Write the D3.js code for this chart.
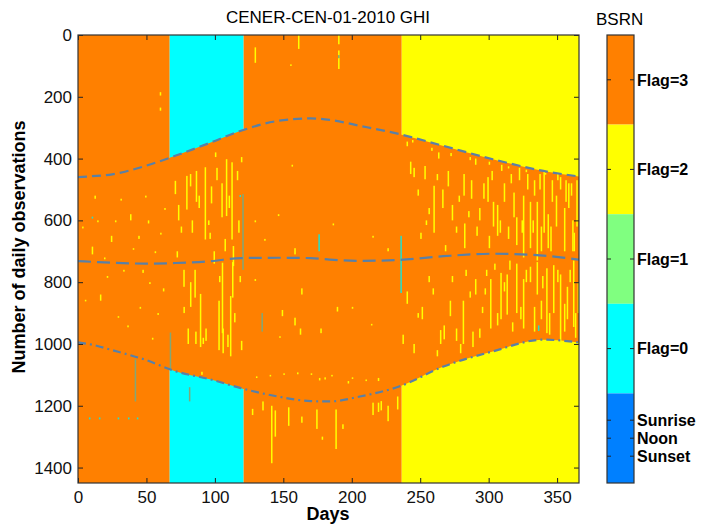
<!DOCTYPE html>
<html>
<head>
<meta charset="utf-8">
<script src="https://cdn.jsdelivr.net/npm/d3@7"></script>
<style>
  body { margin: 0; background: #fff; }
  svg text { font-family: "Liberation Sans", Arial, sans-serif; }
</style>
</head>
<body>
<svg id="chart" width="704" height="527"></svg>
<script>
// ---- data ----
var dayTicks = [0, 50, 100, 150, 200, 250, 300, 350];
var obsTicks = [0, 200, 400, 600, 800, 1000, 1200, 1400];

// night flag per period of the year
var periodStart = [0, 67, 121, 236.5];
var periodEnd   = [67, 121, 236.5, 366];
var periodFlag  = [3, 0, 3, 2];

// sunrise / noon / sunset (minute of day)
var curveDays = [0, 10, 25, 49, 71, 97, 119, 146, 170, 184, 206, 235, 267, 303, 340, 366];
var sunriseMin = [460, 457, 451, 424, 391, 348, 310, 278, 270, 275, 294, 321, 359, 402, 440, 458];
var noonMin    = [732, 734, 737, 740, 738, 732, 722, 721, 722, 727, 731, 728, 716, 708, 714, 727];
var sunsetMin  = [995, 1002, 1020, 1051, 1088, 1115, 1143, 1170, 1185, 1186, 1170, 1137, 1073, 1024, 986, 995];

// flag=2 observations inside daylight (day, from minute, to minute)
var yellowStreaks = [
  [5,857,862],[10,685,710],[16,840,860],[21,780,786],[24,650,670],[29,910,915],[31,530,536],
  [36,940,946],[38,580,600],[40,690,695],[45,880,886],[49,520,526],[51,600,610],[52,800,806],
  [54,980,986],[60,640,646],[59.7,185,196],[59.7,235,245],[63,560,566],[14,600,606],[33,760,766],[58,900,906],
  [3,620,626],[12,520,530],[19,720,726],[27,600,606],[44,650,660],[47,760,770],[56,700,706],[62,820,830],
  [70.6,472,515],[73,550,600],[76.9,760,815],[79,456,565],[80,950,1000],[81.7,450,490],[81.8,800,880],
  [85,760,850],[85.6,960,1000],[86,440,540],[89,838,1010],[92.5,428,662],[93,950,990],[97,490,545],
  [99,700,740],[102.5,860,1020],[104.7,480,590],[105,737,965],[105.5,950,1030],[108,402,586],
  [109,970,1010],[111,845,1040],[112,412,662],[112.5,735,850],[113,683,748],[119,395,412],[119,990,1020],
  [75,620,640],[90,1090,1100],[95,600,615],[100,380,395],[117,600,640],
  [72,700,720],[77,880,900],[83,600,640],[88,520,560],[91,980,1000],[96,640,660],[101,430,470],
  [103,780,800],[107,660,700],[110,520,560],[114,900,930],[116,440,470],[118,780,800],
  [129,40,90],[129,600,606],[129,790,796],[127,1210,1230],[130,1105,1110],[134.6,1186,1215],[136,660,666],
  [140,1100,1105],[141,1200,1386],[143.6,1215,1300],[146,580,586],[147,975,980],[148.8,890,910],
  [150,1095,1100],[153.4,1205,1265],[155,95,100],[156,420,426],[158,690,710],[158,915,940],[160.7,0,45],
  [160,1092,1098],[162,950,970],[163,820,840],[163,1235,1255],[170,1095,1100],[174,1212,1275],[177,950,965],
  [178,1300,1310],[185,1100,1105],[186,610,616],[188,1212,1340],[189,880,895],[190,0,30],[190,50,110],
  [193,1260,1275],[197,1120,1128],[200,880,886],[200,1108,1112],[210,1115,1120],[214,935,940],[215,650,656],
  [215,1190,1230],[219,1190,1220],[219,1110,1120],[221,1185,1215],[226,690,700],[226,1200,1250],
  [233,1170,1212],[180,1108,1115],[176,1110,1118],
  [240,345,360],[242.5,410,450],[245,430,460],[248,500,520],[253,424,467],[256,560,580],[259.6,488,640],
  [263,380,400],[266,500,560],[270,440,490],[273,550,600],[276,620,640],[281.5,450,520],[282,610,690],
  [287,470,530],[290,400,420],[293,560,600],[296,480,530],[299,460,540],[303,540,620],[306,550,650],
  [309,420,440],[311,480,540],[314,620,660],[318,510,590],[320,590,680],[322,430,470],[325,520,720],
  [328,450,500],[330,540,690],[333,470,520],[335,540,730],[338,620,700],[340,440,640],[343,580,690],
  [346,470,540],[349,520,620],[352,460,500],[355,560,700],[358,480,560],[361,600,700],[364,470,620],
  [250,640,660],[268,680,700],[300,650,690],[285,570,590],
  [244,340,348],[258,365,375],[272,382,392],[286,395,405],[300,410,420],[314,425,432],[327,436,444],
  [341,446,452],[254,600,615],[262,450,470],[278,520,540],[291,620,650],[302,440,470],[308,600,640],
  [316,450,480],[324,600,640],[332,600,640],[337,450,500],[345,620,700],[350,450,470],[356,470,540],
  [360,480,520],[362,640,700],[366,500,560],
  [237,970,1000],[240,830,870],[245,1000,1030],[251,880,920],[256,780,800],[264.4,955,1000],[267,940,985],
  [271.5,860,910],[276,950,990],[281,860,1000],[288,960,1010],[290,790,840],[295,880,900],[301,790,950],
  [304,740,760],[308.5,770,920],[313,775,905],[317,930,960],[320,740,900],[325,790,950],[330,750,800],
  [335,735,840],[338,860,920],[342,755,965],[347,745,900],[352,775,990],[357,815,920],[361.6,730,945],
  [365,800,900],[297,820,840],[283,760,780],
  [248,900,915],[259,820,840],[262,1020,1040],[273,780,800],[279,1000,1030],[286,830,850],[293,950,980],
  [298,760,780],[306,900,940],[311,800,830],[315,730,760],[323,880,920],[327,760,800],[333,880,960],
  [339,780,820],[344,900,970],[350,760,800],[355,870,960],[359,760,800],[363,900,980]
];
// flag=0 observations
var cyanStreaks = [
  [235.5,650,835],[175.6,645,700],[8,1238,1244],[15.3,1238,1244],[29,1238,1244],[36.5,1238,1244],
  [43,1238,1244],[10,588,594],[118,518,524],[336,940,958]
];
// mixed flags (grey-green)
var mixedStreaks = [
  [41.4,1050,1186],[67,963,1083],[81,1140,1186],[120,515,760],[134,900,960],[190,65,75]
];

var legendLabels = ["Flag=3", "Flag=2", "Flag=1", "Flag=0", ""];
var legendColors = ["#ff8000", "#ffff00", "#80ff80", "#00ffff", "#0080ff"];
var flagColor = {3: "#ff8000", 2: "#ffff00", 1: "#80ff80", 0: "#00ffff"};

// ---- drawing ----
var svg = d3.select("#chart");
var x = d3.scaleLinear().domain([0, 366]).range([78, 579]);
var y = d3.scaleLinear().domain([0, 1450]).range([35, 483]);

svg.append("clipPath").attr("id", "plotclip")
  .append("rect").attr("x", 78).attr("y", 35).attr("width", 501).attr("height", 448);

var plot = svg.append("g").attr("clip-path", "url(#plotclip)");

// night background
plot.selectAll("rect.night")
  .data(periodFlag)
  .enter().append("rect")
  .classed("night", true)
  .attr("x", function(d, i) { return x(periodStart[i]); })
  .attr("width", function(d, i) { return x(periodEnd[i]) - x(periodStart[i]); })
  .attr("y", y(0))
  .attr("height", y(1450) - y(0))
  .style("fill", function(d) { return flagColor[d]; });

// daylight area (flag 3)
var daylight = d3.area()
  .curve(d3.curveMonotoneX)
  .x(function(d, i) { return x(curveDays[i]); })
  .y0(function(d, i) { return y(sunsetMin[i]); })
  .y1(function(d, i) { return y(sunriseMin[i]); });

plot.append("path")
  .attr("d", daylight(curveDays))
  .style("fill", "#ff8000");

function drawStreaks(list, colour) {
  plot.selectAll(null)
    .data(list)
    .enter().append("rect")
    .attr("x", function(d) { return x(d[0]); })
    .attr("width", x(1.1) - x(0))
    .attr("y", function(d) { return y(d[1]); })
    .attr("height", function(d) { return Math.max(1.6, y(d[2]) - y(d[1])); })
    .style("fill", colour);
}
drawStreaks(yellowStreaks, "#ffff00");
drawStreaks(cyanStreaks, "#20e0d0");
drawStreaks(mixedStreaks, "#80a878");

// sunrise, noon, sunset lines
var curveLine = function(vals) {
  return d3.line()
    .curve(d3.curveMonotoneX)
    .x(function(d, i) { return x(curveDays[i]); })
    .y(function(d, i) { return y(vals[i]); })(curveDays);
};
[[sunriseMin, "9,5"], [noonMin, "13,6"], [sunsetMin, "8,4,2,4"]].forEach(function(c) {
  plot.append("path")
    .attr("d", curveLine(c[0]))
    .style("fill", "none")
    .style("stroke", "#5a80a6")
    .style("stroke-width", 2.2)
    .style("stroke-dasharray", c[1]);
});

// axes
svg.append("g").attr("transform", "translate(0,483)")
  .call(d3.axisBottom(x).tickValues(dayTicks).tickSize(-5).tickSizeOuter(0).tickPadding(8));
svg.append("g").attr("transform", "translate(78,0)")
  .call(d3.axisLeft(y).tickValues(obsTicks).tickFormat(d3.format("d")).tickSize(-5).tickSizeOuter(0).tickPadding(6));
svg.append("g").attr("transform", "translate(0,35)")
  .call(d3.axisTop(x).tickValues(dayTicks).tickSize(-5).tickSizeOuter(0).tickFormat(""));
svg.append("g").attr("transform", "translate(579,0)")
  .call(d3.axisRight(y).tickValues(obsTicks).tickSize(-5).tickSizeOuter(0).tickFormat(""));

svg.selectAll(".domain").remove();
svg.selectAll(".tick line").style("stroke", "#222");
svg.selectAll(".tick text").style("font-size", "17px").style("fill", "#111")
  .style("font-family", "'Liberation Sans', Arial, sans-serif");

svg.append("rect")
  .attr("x", 78).attr("y", 35).attr("width", 501).attr("height", 448)
  .style("fill", "none").style("stroke", "#333").style("stroke-width", 1.2);

// titles
svg.append("text").attr("x", 328).attr("y", 23).attr("text-anchor", "middle")
  .style("font-size", "17px").text("CENER-CEN-01-2010 GHI");
svg.append("text").attr("x", 328).attr("y", 520).attr("text-anchor", "middle")
  .style("font-size", "18px").style("font-weight", "bold").text("Days");
svg.append("text")
  .attr("transform", "translate(25,247) rotate(-90)")
  .attr("text-anchor", "middle")
  .style("font-size", "18px").style("font-weight", "bold")
  .text("Number of daily observations");

// colour bar
var cb = d3.scaleBand().domain(d3.range(legendColors.length)).range([35, 483]);
var bar = svg.append("g");
bar.selectAll("rect")
  .data(legendColors)
  .enter().append("rect")
  .attr("x", 607).attr("width", 27)
  .attr("y", function(d, i) { return cb(i); })
  .attr("height", cb.bandwidth())
  .style("fill", function(d) { return d; });
bar.append("rect").attr("x", 607).attr("y", 35).attr("width", 27).attr("height", 448)
  .style("fill", "none").style("stroke", "#333").style("stroke-width", 1.2);

var barTicks = legendLabels.slice(0, 4).map(function(l, i) {
  return {label: l, y: cb(i) + cb.bandwidth() / 2};
});
var mid = cb(4) + cb.bandwidth() / 2;
barTicks.push({label: "Sunrise", y: mid - 18}, {label: "Noon", y: mid}, {label: "Sunset", y: mid + 18});

bar.selectAll("g.btick")
  .data(barTicks)
  .enter().append("g")
  .classed("btick", true)
  .each(function(d) {
    var g = d3.select(this);
    g.append("line").attr("x1", 607).attr("x2", 611).attr("y1", d.y).attr("y2", d.y).style("stroke", "#222");
    g.append("line").attr("x1", 630).attr("x2", 634).attr("y1", d.y).attr("y2", d.y).style("stroke", "#222");
    g.append("text").attr("x", 637).attr("y", d.y).attr("dy", "0.36em")
      .style("font-size", "16px").style("font-weight", "bold").text(d.label);
  });

svg.append("text").attr("x", 596).attr("y", 25)
  .style("font-size", "17px").text("BSRN");
</script>
</body>
</html>
